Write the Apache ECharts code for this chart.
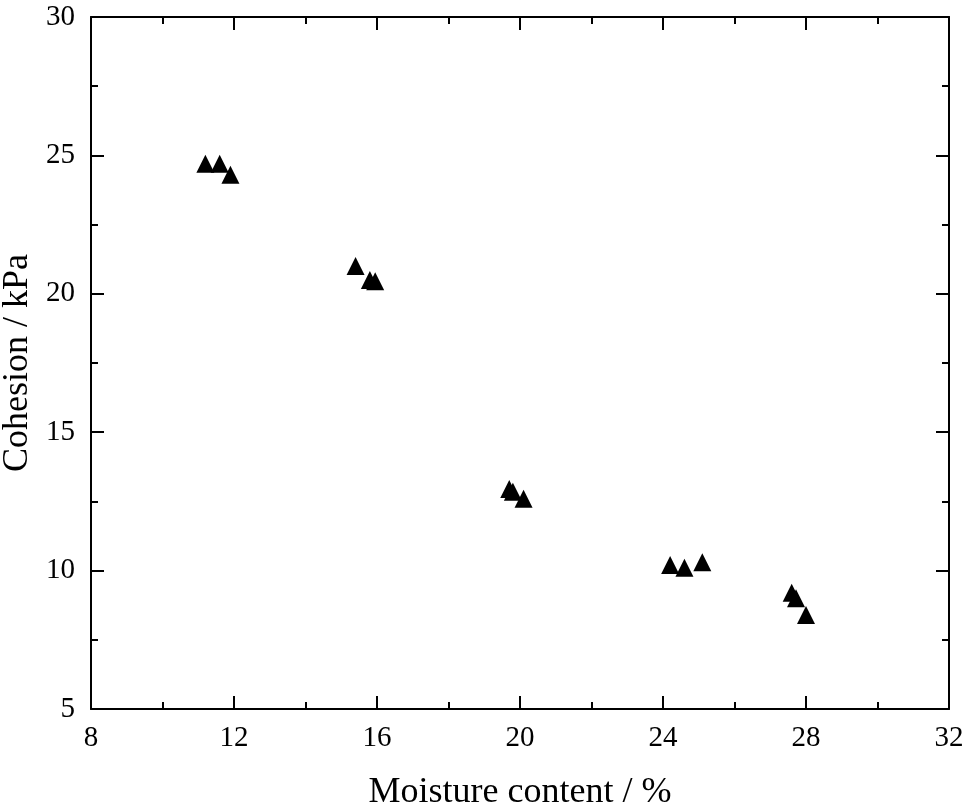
<!DOCTYPE html>
<html>
<head>
<meta charset="utf-8">
<script src="https://cdn.jsdelivr.net/npm/echarts@6/dist/echarts.min.js"></script>
<style>
  html, body { margin: 0; padding: 0; background: #fff; }
  #chart { width: 968px; height: 810px; }
</style>
</head>
<body>
<div id="chart"></div>
<script>
// data
var moisture = [11.2, 11.6, 11.9, 15.4, 15.8, 15.95, 19.7, 19.8, 20.1, 24.2, 24.6, 25.1, 27.6, 27.72, 28.0]
var cohesion = [24.7, 24.7, 24.3, 21.0, 20.5, 20.45, 12.95, 12.85, 12.6, 10.2, 10.1, 10.3, 9.2, 9.0, 8.4]

var points = moisture.map(function (m, i) { return [m, cohesion[i]] })

var font = 'Liberation Serif, Times New Roman, serif'
var lineStyle = { color: '#000', width: 2 }

// shared axis bits, ticks point inward
function axisBase (min, max, interval) {
  return {
    type: 'value',
    min: min,
    max: max,
    interval: interval,
    axisLine: { show: true, onZero: false, lineStyle: lineStyle },
    axisTick: { show: true, inside: true, length: 13, lineStyle: lineStyle },
    minorTick: { show: true, splitNumber: 2, length: 7, lineStyle: lineStyle },
    splitLine: { show: false }
  }
}

var xMain = axisBase(8, 32, 4)
xMain.position = 'bottom'
xMain.name = 'Moisture content / %'
xMain.nameLocation = 'middle'
xMain.nameGap = 66
xMain.nameTextStyle = { fontFamily: font, fontSize: 36, color: '#000' }
xMain.axisLabel = { fontFamily: font, fontSize: 29, color: '#000', margin: 15 }

var xTop = axisBase(8, 32, 4)
xTop.position = 'top'
xTop.axisLabel = { show: false }

var yMain = axisBase(5, 30, 5)
yMain.position = 'left'
yMain.name = 'Cohesion / kPa'
yMain.nameLocation = 'middle'
yMain.nameGap = 50
yMain.nameTextStyle = { fontFamily: font, fontSize: 36, color: '#000' }
yMain.axisLabel = { fontFamily: font, fontSize: 29, color: '#000', margin: 16 }

var yRight = axisBase(5, 30, 5)
yRight.position = 'right'
yRight.axisLabel = { show: false }

var chart = echarts.init(document.getElementById('chart'))
chart.setOption({
  backgroundColor: '#fff',
  animation: false,
  grid: { left: 91, right: 19, top: 17, bottom: 101, containLabel: false, outerBoundsMode: 'none' },
  xAxis: [xMain, xTop],
  yAxis: [yMain, yRight],
  series: [{
    type: 'scatter',
    symbol: 'triangle',
    symbolSize: 18,
    itemStyle: { color: '#000', opacity: 1 },
    data: points
  }]
})
</script>
</body>
</html>
